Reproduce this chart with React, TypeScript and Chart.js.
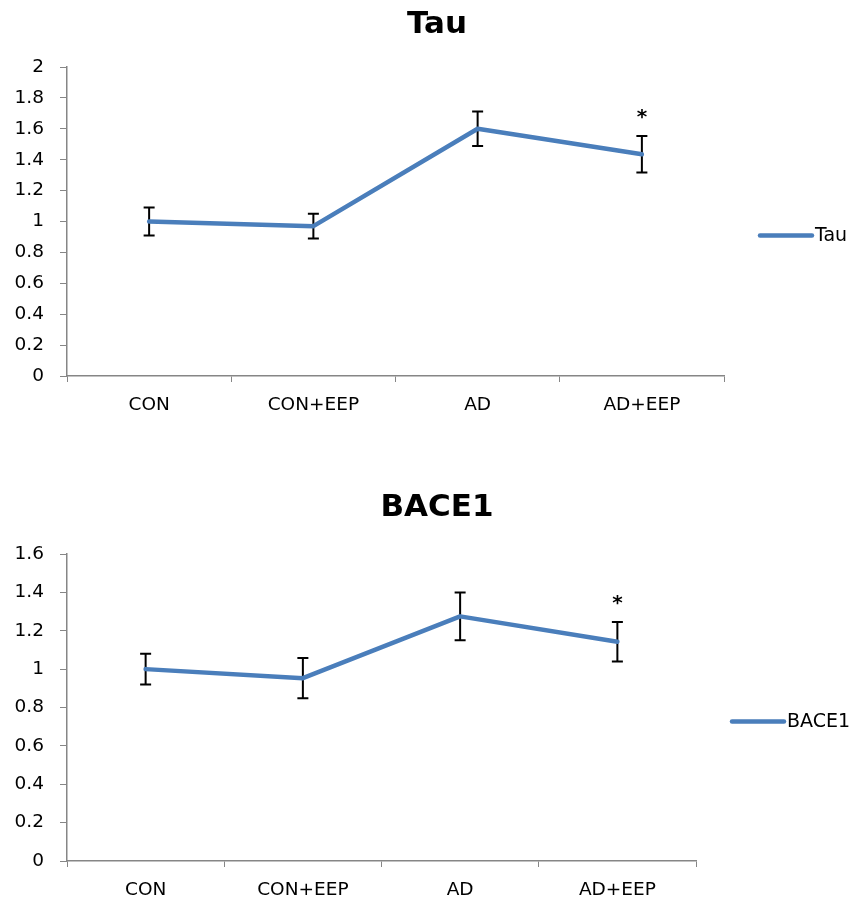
import React, { useEffect, useRef } from "react";
import { Chart, registerables } from "chart.js";

Chart.register(...registerables);

const categories = ["CON", "CON+EEP", "AD", "AD+EEP"];

const tauValues = [1.0, 0.97, 1.6, 1.435];
const tauErrors = [0.09, 0.08, 0.112, 0.118];
const tauSig = [false, false, false, true];
const tauMax = 2;

const bace1Values = [1.0, 0.953, 1.275, 1.143];
const bace1Errors = [0.08, 0.105, 0.125, 0.103];
const bace1Sig = [false, false, false, true];
const bace1Max = 1.6;

const tickStep = 0.2;

const FONT = '"DejaVu Sans", sans-serif';
const LINE_COLOR = "#4A7EBB";
const AXIS_COLOR = "#868686";

const annotatePlugin = {
  id: "annotate",
  beforeDatasetsDraw(chart: any, _args: any, opts: any) {
    const ctx = chart.ctx;
    const xs = chart.scales.x;
    const ys = chart.scales.y;
    const ds = chart.data.datasets[0];
    ctx.save();
    ctx.strokeStyle = "#000";
    ctx.lineWidth = 2;
    ds.data.forEach((v: number, i: number) => {
      const e = opts.errors[i];
      const x = xs.getPixelForValue(i);
      const yTop = ys.getPixelForValue(v + e);
      const yBot = ys.getPixelForValue(v - e);
      ctx.beginPath();
      ctx.moveTo(x, yTop);
      ctx.lineTo(x, yBot);
      ctx.moveTo(x - 5.5, yTop);
      ctx.lineTo(x + 5.5, yTop);
      ctx.moveTo(x - 5.5, yBot);
      ctx.lineTo(x + 5.5, yBot);
      ctx.stroke();
    });
    ctx.restore();
  },
  afterDraw(chart: any, _args: any, opts: any) {
    const ctx = chart.ctx;
    const xs = chart.scales.x;
    const ys = chart.scales.y;
    const ds = chart.data.datasets[0];
    const area = chart.chartArea;
    ctx.save();
    // title
    ctx.fillStyle = "#000";
    ctx.font = `bold 31px ${FONT}`;
    ctx.textAlign = "center";
    ctx.textBaseline = "alphabetic";
    ctx.fillText(opts.title, opts.titleX, opts.titleY);
    // significance stars
    ctx.font = `bold 20px ${FONT}`;
    ds.data.forEach((v: number, i: number) => {
      if (!opts.sig[i]) return;
      const x = xs.getPixelForValue(i);
      const yTop = ys.getPixelForValue(v + opts.errors[i]);
      ctx.fillText("*", x, yTop - 20 + 7);
    });
    // legend
    const ly = (area.top + area.bottom) / 2 + 14;
    const lx0 = area.right + 36;
    const lx1 = area.right + 88;
    ctx.strokeStyle = ds.borderColor;
    ctx.lineWidth = 4.5;
    ctx.lineCap = "round";
    ctx.beginPath();
    ctx.moveTo(lx0, ly);
    ctx.lineTo(lx1, ly);
    ctx.stroke();
    ctx.font = `19px ${FONT}`;
    ctx.textAlign = "left";
    ctx.textBaseline = "middle";
    ctx.fillText(ds.label, lx1 + 3, ly + 1);
    ctx.restore();
  },
};

type PanelProps = {
  title: string;
  values: number[];
  errors: number[];
  sig: boolean[];
  yMax: number;
  top: number;
  height: number;
  padding: { left: number; top: number; right: number; bottom: number };
  titleY: number;
};

function Panel(props: PanelProps) {
  const ref = useRef<HTMLCanvasElement | null>(null);
  useEffect(() => {
    if (!ref.current) return;
    const chart = new Chart(ref.current, {
      type: "line",
      data: {
        labels: categories,
        datasets: [
          {
            label: props.title,
            data: props.values,
            borderColor: LINE_COLOR,
            backgroundColor: LINE_COLOR,
            borderWidth: 4.5,
            pointRadius: 0,
            tension: 0,
            borderCapStyle: "round",
            borderJoinStyle: "round",
            fill: false,
          },
        ],
      },
      plugins: [annotatePlugin],
      options: {
        responsive: false,
        animation: false,
        devicePixelRatio: 1,
        layout: { padding: props.padding },
        plugins: {
          legend: { display: false },
          title: { display: false },
          tooltip: { enabled: false },
          annotate: {
            title: props.title,
            errors: props.errors,
            sig: props.sig,
            titleX: 437,
            titleY: props.titleY,
          },
        } as any,
        scales: {
          x: {
            type: "category",
            offset: true,
            grid: {
              display: true,
              offset: true,
              drawOnChartArea: false,
              drawTicks: true,
              tickLength: 6,
              color: AXIS_COLOR,
            },
            border: { display: true, color: AXIS_COLOR, width: 1.5 },
            ticks: {
              color: "#000",
              font: { family: FONT, size: 18.5 },
              padding: 12,
              maxRotation: 0,
              autoSkip: false,
            },
            afterFit: (s: any) => {
              s.height = 40;
            },
          },
          y: {
            min: 0,
            max: props.yMax,
            grid: {
              display: true,
              drawOnChartArea: false,
              drawTicks: true,
              tickLength: 7,
              color: AXIS_COLOR,
            },
            border: { display: true, color: AXIS_COLOR, width: 1.5 },
            ticks: {
              stepSize: tickStep,
              color: "#000",
              font: { family: FONT, size: 18.5 },
              padding: 16,
              callback: (v: any) => String(Math.round(Number(v) * 10) / 10),
            },
            afterFit: (s: any) => {
              s.width = 67;
            },
          },
        },
      } as any,
    });
    return () => chart.destroy();
  }, []);
  return (
    <canvas
      ref={ref}
      width={853}
      height={props.height}
      style={{ position: "absolute", left: 0, top: props.top, width: 853, height: props.height, display: "block" }}
    />
  );
}

export default function App() {
  return (
    <div style={{ position: "absolute", left: 0, top: 0, width: 853, height: 901, background: "#fff" }}>
      <Panel
        title="Tau"
        values={tauValues}
        errors={tauErrors}
        sig={tauSig}
        yMax={tauMax}
        top={0}
        height={440}
        padding={{ left: 0, top: 67, right: 129, bottom: 24 }}
        titleY={33}
      />
      <Panel
        title="BACE1"
        values={bace1Values}
        errors={bace1Errors}
        sig={bace1Sig}
        yMax={bace1Max}
        top={470}
        height={431}
        padding={{ left: 0, top: 84, right: 157, bottom: 0 }}
        titleY={46}
      />
    </div>
  );
}
